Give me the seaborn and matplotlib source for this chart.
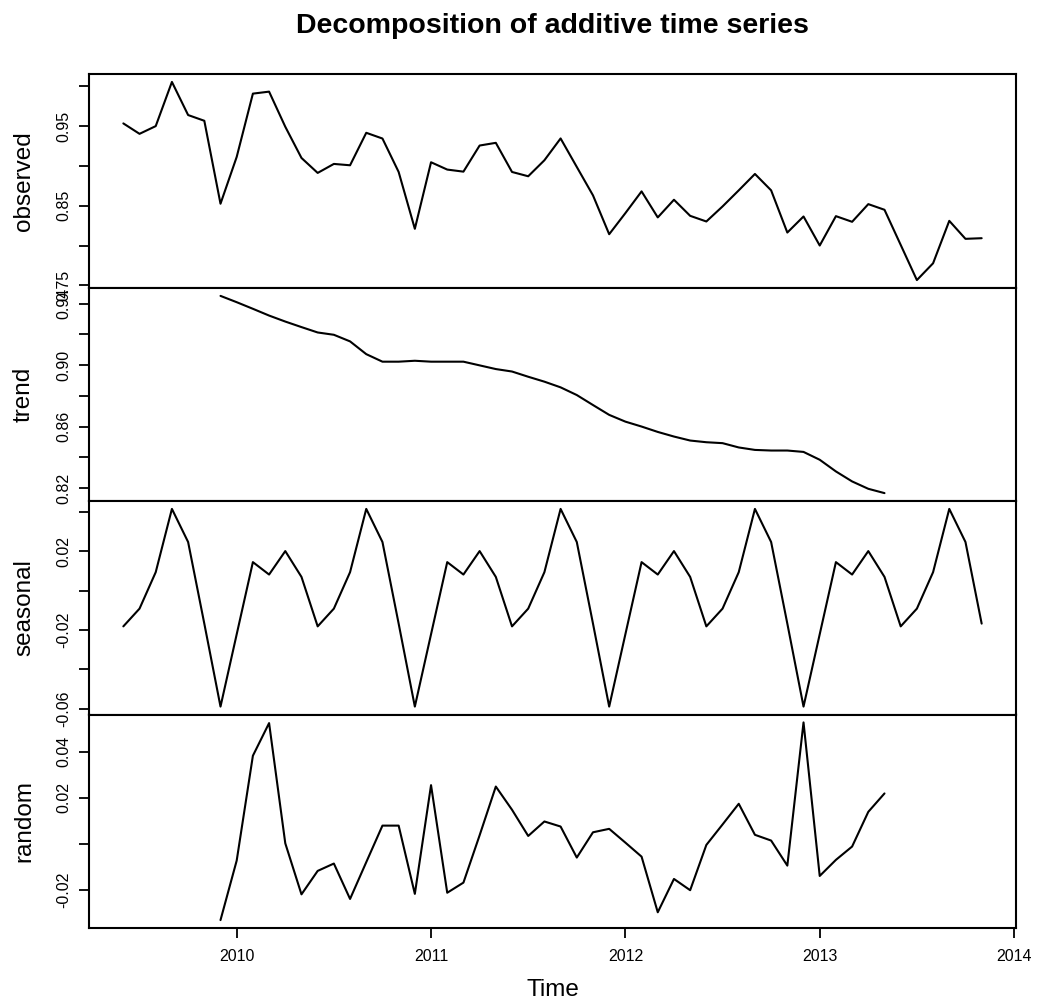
import numpy as np
import pandas as pd
import matplotlib
matplotlib.use("Agg")
import matplotlib.pyplot as plt
import seaborn as sns

# ---------------- data (monthly, Jun 2009 - Nov 2013) ----------------
start_year = 2009
start_month = 6
n_obs = 54

observed = [0.9534, 0.9403, 0.9500, 1.0055, 0.9639, 0.9567, 0.8525, 0.9113, 0.9908, 0.9933,
            0.9492, 0.9100, 0.8912, 0.9025, 0.9008, 0.9416, 0.9344, 0.8924, 0.8210, 0.9046,
            0.8954, 0.8928, 0.9256, 0.9290, 0.8924, 0.8870, 0.9071, 0.9345, 0.8987, 0.8630,
            0.8142, 0.8407, 0.8680, 0.8353, 0.8575, 0.8373, 0.8302, 0.8491, 0.8693, 0.8899,
            0.8693, 0.8163, 0.8365, 0.8000, 0.8369, 0.8298, 0.8520, 0.8449, 0.8008, 0.7566,
            0.7777, 0.8310, 0.8084, 0.8092]

# trend and random are available from Dec 2009 to May 2013 (index 6 .. 47)
trend = [0.9450, 0.9409, 0.9366, 0.9322, 0.9283, 0.9247, 0.9212, 0.9197, 0.9154, 0.9071,
         0.9022, 0.9022, 0.9028, 0.9022, 0.9022, 0.9022, 0.8998, 0.8974, 0.8958, 0.8924,
         0.8892, 0.8855, 0.8805, 0.8740, 0.8676, 0.8632, 0.8600, 0.8565, 0.8535, 0.8509,
         0.8498, 0.8492, 0.8464, 0.8448, 0.8444, 0.8444, 0.8435, 0.8384, 0.8308, 0.8243,
         0.8195, 0.8167]

seasonal = [-0.0182, -0.0092, 0.0093, 0.0414, 0.0246, -0.0168, -0.0589, -0.0222, 0.0144, 0.0081, 0.0200, 0.0069,
            -0.0182, -0.0092, 0.0093, 0.0414, 0.0246, -0.0168, -0.0589, -0.0222, 0.0144, 0.0081, 0.0200, 0.0069,
            -0.0182, -0.0092, 0.0093, 0.0414, 0.0246, -0.0168, -0.0589, -0.0222, 0.0144, 0.0081, 0.0200, 0.0069,
            -0.0182, -0.0092, 0.0093, 0.0414, 0.0246, -0.0168, -0.0589, -0.0222, 0.0144, 0.0081, 0.0200, 0.0069,
            -0.0182, -0.0092, 0.0093, 0.0414, 0.0246, -0.0168]

random_ = [-0.0332, -0.0073, 0.0383, 0.0525, 0.0002, -0.0220, -0.0118, -0.0086, -0.0240, -0.0080,
           0.0079, 0.0079, -0.0218, 0.0255, -0.0213, -0.0169, 0.0037, 0.0249, 0.0148, 0.0034,
           0.0097, 0.0075, -0.0060, 0.0050, 0.0065, 0.0005, -0.0056, -0.0298, -0.0153, -0.0202,
           -0.0005, 0.0084, 0.0174, 0.0039, 0.0014, -0.0095, 0.0528, -0.0140, -0.0070, -0.0012,
           0.0139, 0.0219]
trend_offset = 6

panel_names = ["observed", "trend", "seasonal", "random"]
ytick_values = {
    "observed": [0.75, 0.80, 0.85, 0.90, 0.95, 1.00],
    "trend": [0.82, 0.84, 0.86, 0.88, 0.90, 0.92, 0.94],
    "seasonal": [-0.06, -0.04, -0.02, 0.00, 0.02, 0.04],
    "random": [-0.02, 0.00, 0.02, 0.04],
}
ytick_labels = {
    "observed": ["0.75", "", "0.85", "", "0.95", ""],
    "trend": ["0.82", "", "0.86", "", "0.90", "", "0.94"],
    "seasonal": ["-0.06", "", "-0.02", "", "0.02", ""],
    "random": ["-0.02", "", "0.02", "0.04"],
}
xtick_values = [2010, 2011, 2012, 2013, 2014]
xtick_labels = ["2010", "2011", "2012", "2013", "2014"]
title = "Decomposition of additive time series"

# ---------------- build table ----------------
time = start_year + (start_month - 1) / 12 + np.arange(n_obs) / 12
df = pd.DataFrame({"time": time, "observed": observed, "seasonal": seasonal})
df["trend"] = np.nan
df["random"] = np.nan
df.loc[trend_offset:trend_offset + len(trend) - 1, "trend"] = trend
df.loc[trend_offset:trend_offset + len(random_) - 1, "random"] = random_

# ---------------- figure ----------------
sns.set_theme(style="white")
plt.rcParams['font.family'] = ['Liberation Sans', 'DejaVu Sans']

W, H = 1037, 1005
fig = plt.figure(figsize=(W / 100, H / 100), dpi=100)
left_px, right_px = 89, 1016
edges = [74, 288, 501, 714.5, 928]

xr = time.max() - time.min()
xlim = (time.min() - 0.04 * xr, time.max() + 0.04 * xr)

tick_fs = 11.5
label_fs = 17.5

axes = []
for i, name in enumerate(panel_names):
    top, bot = edges[i], edges[i + 1]
    ax = fig.add_axes([left_px / W, 1 - bot / H, (right_px - left_px) / W, (bot - top) / H])
    sub = df[["time", name]].dropna()
    sns.lineplot(data=sub, x="time", y=name, ax=ax, color="black", linewidth=1.5,
                 estimator=None, sort=False)
    vals = sub[name].values
    r = vals.max() - vals.min()
    ax.set_ylim(vals.min() - 0.04 * r, vals.max() + 0.04 * r)
    ax.set_xlim(*xlim)
    for s in ax.spines.values():
        s.set_color("black")
        s.set_linewidth(1.5)
    ax.set_yticks(ytick_values[name])
    ax.set_yticklabels(ytick_labels[name], rotation=90, va="center", ha="right")
    ax.tick_params(axis="y", left=True, direction="out", length=7, width=1.3,
                   labelsize=tick_fs, pad=6, colors="black")
    ax.set_ylabel(name, fontsize=label_fs, color="black")
    ax.yaxis.label.set_va("center")
    ax.yaxis.set_label_coords((24 - left_px) / (right_px - left_px), 0.5)
    if i < 3:
        ax.tick_params(axis="x", bottom=False, labelbottom=False)
        ax.set_xlabel("")
    else:
        ax.set_xticks(xtick_values)
        ax.set_xticklabels(xtick_labels)
        ax.tick_params(axis="x", bottom=True, direction="out", length=7, width=1.3,
                       labelsize=tick_fs, pad=8, colors="black")
        ax.set_xlabel("Time", fontsize=label_fs, color="black")
        ax.xaxis.label.set_va("center")
        ax.xaxis.set_label_coords(0.5, (bot - 990) / (bot - top))
    axes.append(ax)

fig.text(552.5 / W, 1 - 26 / H, title, ha="center", va="center",
         fontsize=20.5, fontweight="bold", color="black")

fig.savefig("out.png", dpi=100)
